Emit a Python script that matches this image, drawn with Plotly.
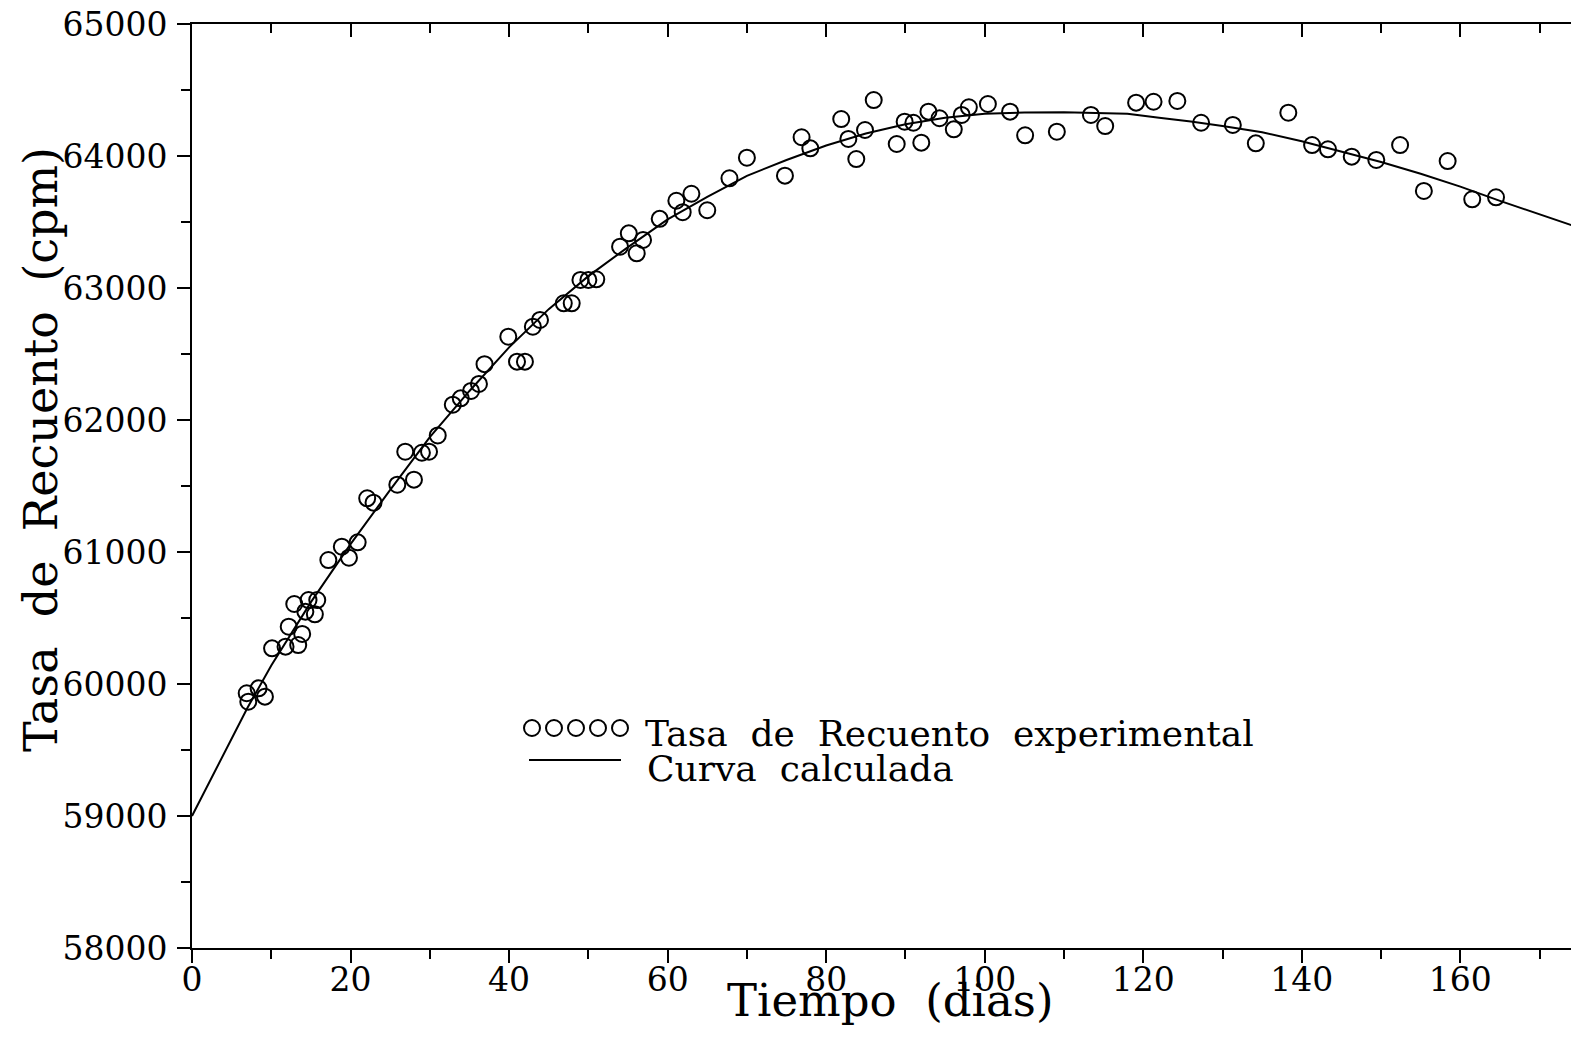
import plotly.graph_objects as go

# ---- Data ----
t_exp = [6.9, 7.1, 8.4, 9.2, 10.1, 12.2, 11.8, 12.9, 13.4, 13.9, 14.3, 14.7, 15.5, 15.8,
         17.2, 18.9, 19.8, 20.9, 22.1, 22.9, 25.9, 26.9, 28.0, 29.0, 29.9, 31.0, 32.9,
         33.9, 35.2, 36.2, 36.9, 39.9, 41.0, 42.0, 43.0, 43.9, 46.9, 47.9, 49.0, 50.0,
         51.0, 54.0, 55.1, 56.1, 56.9, 59.0, 61.1, 61.9, 63.0, 65.0, 67.8, 70.0, 74.8,
         76.9, 78.0, 81.9, 82.8, 83.8, 84.9, 86.0, 88.9, 89.9, 91.0, 92.0, 92.9, 94.3,
         96.1, 97.1, 98.0, 100.4, 103.2, 105.1, 109.1, 113.4, 115.2, 119.1, 121.3, 124.3,
         127.3, 131.3, 134.2, 138.3, 141.3, 143.3, 146.3, 149.4, 152.4, 155.4, 158.4,
         161.5, 164.5]
rate_exp = [59930, 59866, 59967, 59904, 60270, 60434, 60283, 60606, 60295, 60379, 60548,
            60636, 60528, 60636, 60939, 61040, 60957, 61073, 61407, 61374, 61510, 61760,
            61548, 61752, 61760, 61883, 62116, 62164, 62220, 62273, 62423, 62631, 62442,
            62442, 62707, 62758, 62884, 62884, 63061, 63061, 63066, 63313, 63414, 63263,
            63364, 63524, 63661, 63574, 63714, 63589, 63831, 63987, 63851, 64142, 64058,
            64280, 64129, 63977, 64197, 64424, 64091, 64260, 64252, 64101, 64336, 64286,
            64202, 64311, 64369, 64394, 64336, 64157, 64184, 64311, 64227, 64404, 64411,
            64417, 64252, 64235, 64096, 64328, 64083, 64051, 63995, 63970, 64083, 63735,
            63962, 63672, 63687]

t_fit = [0, 7, 10, 15, 20, 25, 30, 35, 40, 45, 50, 55, 60, 65, 70, 75, 80, 85, 90, 95,
         100, 105, 110, 115, 118, 122, 126, 130, 135, 140, 145, 150, 155, 160, 165, 170, 174]
rate_fit = [59000, 59820, 60140, 60620, 61060, 61470, 61870, 62220, 62550, 62840, 63090,
            63310, 63520, 63690, 63850, 63970, 64080, 64170, 64240, 64290, 64320, 64330,
            64332, 64328, 64320, 64290, 64262, 64228, 64180, 64112, 64035, 63955, 63865,
            63768, 63660, 63560, 63477]

x_ticks = [0, 20, 40, 60, 80, 100, 120, 140, 160]
y_ticks = [58000, 59000, 60000, 61000, 62000, 63000, 64000, 65000]

label_exp = "Tasa\u00a0 de\u00a0 Recuento\u00a0 experimental"
label_fit = "Curva\u00a0 calculada"
x_title = "Tiempo\u00a0 (dias)"
y_title = "Tasa\u00a0 de\u00a0 Recuento\u00a0 (cpm)"

FONT = "DejaVu Serif"
W, H = 1571, 1043
L, R, T, B = 192, 0, 24, 95
PW, PH = W - L - R, H - T - B


def px(xp):
    return (xp - L) / PW


def py(yp):
    return (H - B - yp) / PH


fig = go.Figure()
fig.add_trace(go.Scatter(x=t_fit, y=rate_fit, mode="lines",
                         line=dict(color="black", width=2), showlegend=False))
fig.add_trace(go.Scatter(x=t_exp, y=rate_exp, mode="markers",
                         marker=dict(symbol="circle-open", size=16, color="black",
                                     line=dict(width=2, color="black")),
                         showlegend=False))

axis_common = dict(showgrid=False, zeroline=False, showline=True, linecolor="black",
                   linewidth=2, tickcolor="black", tickwidth=2)

fig.update_layout(
    width=W, height=H,
    margin=dict(l=L, r=R, t=T, b=B, pad=0),
    paper_bgcolor="white", plot_bgcolor="white",
    font=dict(family=FONT, color="black"),
    xaxis=dict(range=[0, 173.96], tickvals=x_ticks, ticks="outside", ticklen=13,
               ticklabelstandoff=-12,
               tickfont=dict(family=FONT, size=33, color="black"),
               minor=dict(dtick=10, tick0=0, ticks="outside", ticklen=9, tickwidth=2,
                          tickcolor="black"),
               **axis_common),
    xaxis2=dict(range=[0, 173.96], overlaying="x", side="top", anchor="y",
                tickvals=x_ticks, ticks="inside", ticklen=13, showticklabels=False,
                minor=dict(dtick=10, tick0=0, ticks="inside", ticklen=9, tickwidth=2,
                           tickcolor="black"),
                **axis_common),
    yaxis=dict(range=[58000, 65000], tickvals=y_ticks, tickformat="d", ticks="outside",
               ticklen=13, ticklabelstandoff=3,
               tickfont=dict(family=FONT, size=33, color="black"),
               minor=dict(dtick=500, tick0=58000, ticks="outside", ticklen=9, tickwidth=2,
                          tickcolor="black"),
               **axis_common),
)

# invisible trace to keep the top axis active
fig.add_trace(go.Scatter(x=[0], y=[58000], xaxis="x2", mode="markers",
                         marker=dict(opacity=0), showlegend=False, hoverinfo="skip"))

annotations = [
    dict(text=x_title, x=px(890), y=py(1001), xref="paper", yref="paper",
         xanchor="center", yanchor="middle", showarrow=False,
         font=dict(family=FONT, size=45, color="black")),
    dict(text=y_title, x=px(41), y=py(450), xref="paper", yref="paper",
         xanchor="center", yanchor="middle", showarrow=False, textangle=-90,
         font=dict(family=FONT, size=46, color="black")),
    dict(text=label_exp, x=px(643), y=py(733), xref="paper", yref="paper",
         xanchor="left", yanchor="middle", showarrow=False,
         font=dict(family=FONT, size=36, color="black")),
    dict(text=label_fit, x=px(645), y=py(768), xref="paper", yref="paper",
         xanchor="left", yanchor="middle", showarrow=False,
         font=dict(family=FONT, size=36, color="black")),
]
fig.update_layout(annotations=annotations)

# legend keys (decoration)
shapes = []
for cx in [532, 554, 576, 598, 620]:
    shapes.append(dict(type="circle", xref="paper", yref="paper",
                       xsizemode="pixel", ysizemode="pixel",
                       xanchor=px(cx), yanchor=py(728),
                       x0=-8, x1=8, y0=-8, y1=8,
                       line=dict(color="black", width=2)))
shapes.append(dict(type="line", xref="paper", yref="paper",
                   x0=px(529), x1=px(621), y0=py(760), y1=py(760),
                   line=dict(color="black", width=2)))
fig.update_layout(shapes=shapes)

fig.write_html("out.html")
